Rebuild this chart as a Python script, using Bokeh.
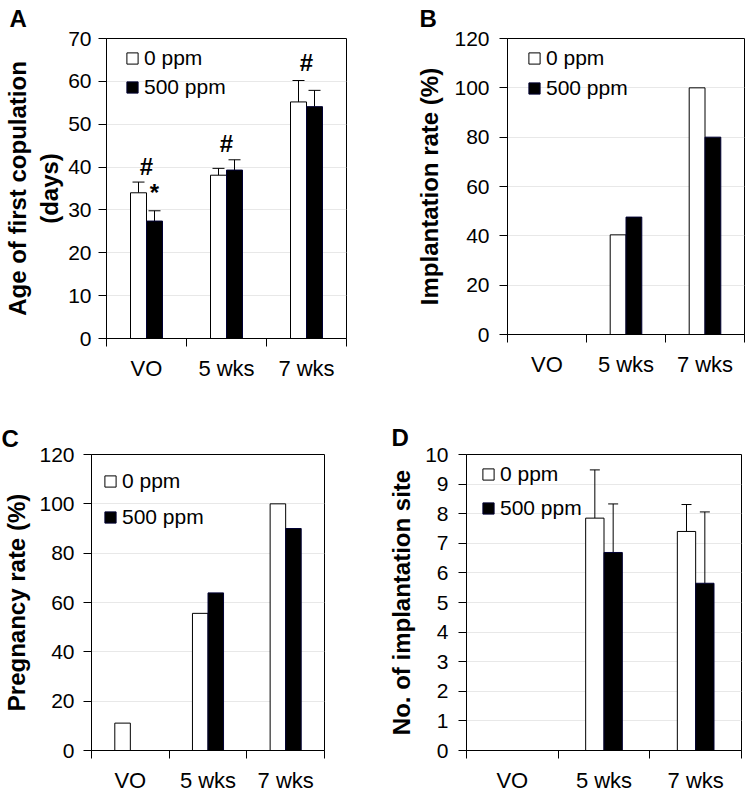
from bokeh.plotting import figure
from bokeh.models import (Range1d, FixedTicker, Whisker, TeeHead, ColumnDataSource,
                          Legend, LegendItem)
from bokeh.layouts import column, row
from bokeh.embed import file_html
from bokeh.resources import INLINE
from bokeh.core.properties import value

# ---------------- data ----------------
categories = ["VO", "5 wks", "7 wks"]
series_labels = ["0 ppm", "500 ppm"]

# A: age of first copulation (days), mean and upper error end
a_ctrl = [34.0, 38.1, 55.2]
a_ctrl_upper = [36.5, 39.7, 60.2]
a_treat = [27.4, 39.3, 54.1]
a_treat_upper = [29.8, 41.7, 57.9]
a_marks = ["#", "*", "#", "#"]
a_mark_cat = [0, 0, 1, 2]
a_mark_series = [None, 1, None, None]   # None = centred on group
a_mark_y = [38.1, 32.0, 43.3, 62.4]
a_yticks = [0, 10, 20, 30, 40, 50, 60, 70]

# B: implantation rate (%)
b_ctrl = [0, 40.4, 100]
b_treat = [0, 47.6, 80]
b_yticks = [0, 20, 40, 60, 80, 100, 120]

# C: pregnancy rate (%)
c_ctrl = [11.1, 55.6, 100]
c_treat = [0, 63.9, 90]
c_yticks = [0, 20, 40, 60, 80, 100, 120]

# D: number of implantation sites
d_ctrl = [0, 7.85, 7.40]
d_ctrl_upper = [0, 9.48, 8.31]
d_treat = [0, 6.69, 5.65]
d_treat_upper = [0, 8.33, 8.06]
d_yticks = [0, 1, 2, 3, 4, 5, 6, 7, 8, 9, 10]

FONT = "Liberation Sans"
BAR_W = 0.2


def panel(letter, ylabel, yticks, ctrl, treat, ctrl_up=None, treat_up=None, *,
          fw, fh, bl, br, bt, bb, leg_xy, leg_spacing, letter_off, letter_standoff,
          ylab_standoff, tick_standoff, x_standoff, cap=12, marks=None):
    p = figure(frame_width=fw, frame_height=fh, min_border_left=bl, min_border_right=br,
               min_border_top=bt, min_border_bottom=bb,
               x_range=Range1d(0, len(categories)), y_range=Range1d(yticks[0], yticks[-1]),
               output_backend="svg", toolbar_location=None)
    centers = [i + 0.5 for i in range(len(categories))]
    x0 = [c - BAR_W / 2 for c in centers]
    x1 = [c + BAR_W / 2 for c in centers]
    r0 = p.vbar(x=x0, top=ctrl, width=BAR_W, fill_color="white", line_color="black", line_width=1)
    r1 = p.vbar(x=x1, top=treat, width=BAR_W, fill_color="black", line_color="#000033", line_width=1)

    if ctrl_up is not None:
        for xs, base, up in ((x0, ctrl, ctrl_up), (x1, treat, treat_up)):
            idx = [i for i in range(len(base)) if up[i] > base[i]]
            src = ColumnDataSource(dict(x=[xs[i] for i in idx], lower=[base[i] for i in idx],
                                        upper=[up[i] for i in idx]))
            p.add_layout(Whisker(base="x", lower="lower", upper="upper", source=src,
                                 dimension="height", line_color="black", line_width=1,
                                 lower_head=None,
                                 upper_head=TeeHead(size=cap, line_color="black", line_width=1)))

    if marks is not None:
        texts, cats, sers, ys = marks
        mx = [x1[c] if s == 1 else (x0[c] if s == 0 else centers[c]) for c, s in zip(cats, sers)]
        p.text(x=mx, y=ys, text=texts, text_font=value(FONT), text_font_style="bold",
               text_font_size="24px", text_align="center", text_baseline="alphabetic",
               y_offset=-9, text_color="black")

    # x axis: labels at category centres, tick marks at category boundaries
    xa = p.xaxis[0]
    xa.ticker = FixedTicker(ticks=centers, minor_ticks=list(range(len(categories) + 1)))
    xa.major_label_overrides = {c: cat for c, cat in zip(centers, categories)}
    xa.major_tick_out = 0
    xa.major_tick_in = 0
    xa.minor_tick_out = 8
    xa.minor_tick_in = 0
    xa.minor_tick_line_color = "black"
    xa.major_label_standoff = x_standoff
    xa.major_label_text_font = FONT
    xa.major_label_text_font_size = "22px"
    xa.major_label_text_color = "black"
    xa.axis_line_color = "black"

    ya = p.yaxis[0]
    ya.ticker = FixedTicker(ticks=yticks)
    ya.major_tick_out = 8
    ya.major_tick_in = 0
    ya.major_tick_line_color = "black"
    ya.major_label_standoff = tick_standoff
    ya.major_label_text_font = FONT
    ya.major_label_text_font_size = "21px"
    ya.major_label_text_color = "black"
    ya.axis_line_color = "black"
    ya.axis_label = ylabel
    ya.axis_label_text_font = FONT
    ya.axis_label_text_font_style = "bold"
    ya.axis_label_text_font_size = "24px"
    ya.axis_label_text_color = "black"
    ya.axis_label_standoff = ylab_standoff

    p.xgrid.visible = False
    p.ygrid.grid_line_color = "#e8e8e8"
    p.outline_line_color = "black"
    p.outline_line_width = 1

    leg = Legend(items=[LegendItem(label=series_labels[0], renderers=[r0]),
                        LegendItem(label=series_labels[1], renderers=[r1])],
                 location=leg_xy, padding=0, margin=0, spacing=leg_spacing,
                 glyph_width=14, glyph_height=14, label_standoff=5,
                 label_text_font=FONT, label_text_font_size="21px", label_text_color="black",
                 border_line_alpha=0, background_fill_alpha=0)
    p.add_layout(leg)

    p.title.text = letter
    p.title.align = "left"
    p.title.offset = letter_off
    p.title.standoff = letter_standoff
    p.title.vertical_align = "top"
    p.title.text_font = FONT
    p.title.text_font_style = "bold"
    p.title.text_font_size = "24px"
    p.title.text_color = "black"
    return p


pA = panel("A", "Age of first copulation\n(days)", a_yticks, a_ctrl, a_treat,
           a_ctrl_upper, a_treat_upper,
           fw=240, fh=300, bl=99, br=33, bt=38, bb=52, leg_xy=(19, 239), leg_spacing=5,
           letter_off=-97, letter_standoff=9, ylab_standoff=2,
           tick_standoff=7, x_standoff=9, cap=12,
           marks=(a_marks, a_mark_cat, a_mark_series, a_mark_y))
pB = panel("B", "Implantation rate (%)", b_yticks, b_ctrl, b_treat,
           fw=237, fh=296, bl=128, br=2, bt=38, bb=56, leg_xy=(20, 234), leg_spacing=6,
           letter_off=-88, letter_standoff=9, ylab_standoff=8,
           tick_standoff=10, x_standoff=9)
pC = panel("C", "Pregnancy rate (%)", c_yticks, c_ctrl, c_treat,
           fw=233, fh=296, bl=88, br=48, bt=64, bb=42, leg_xy=(12, 221), leg_spacing=12,
           letter_off=-90, letter_standoff=2, ylab_standoff=6,
           tick_standoff=9, x_standoff=9)
pD = panel("D", "No. of implantation site", d_yticks, d_ctrl, d_treat,
           d_ctrl_upper, d_treat_upper,
           fw=275, fh=296, bl=94, br=1, bt=64, bb=42, leg_xy=(15, 230), leg_spacing=10,
           letter_off=-75, letter_standoff=4, ylab_standoff=7,
           tick_standoff=10, x_standoff=9, cap=10)

layout = column(row(pA, pB, spacing=0), row(pC, pD, spacing=0), spacing=0)

with open("out.html", "w") as f:
    f.write(file_html(layout, INLINE))
